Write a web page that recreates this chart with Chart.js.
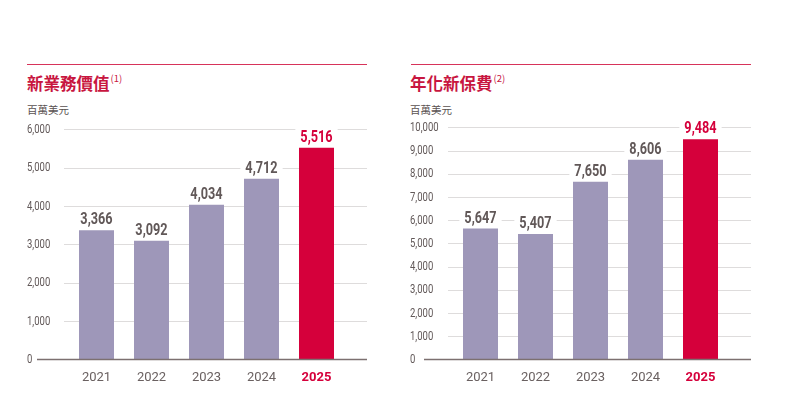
<!DOCTYPE html>
<html>
<head>
<meta charset="utf-8">
<script src="https://cdn.jsdelivr.net/npm/chart.js@4.4.1/dist/chart.umd.min.js"></script>
<style>
  html, body { margin: 0; padding: 0; background: #fff; }
  #page { position: relative; width: 792px; height: 399px; overflow: hidden; }
  canvas { position: absolute; top: 0; }
  .rule { position: absolute; top: 64px; height: 1px; background: #d7335a; }
  .title { position: absolute; top: 66px; font-family: "Noto Sans CJK TC", "Noto Sans", sans-serif;
           font-weight: 700; font-size: 16.5px; color: #c8163f; line-height: 24px; white-space: nowrap; }
  .title sup { font-size: 9.5px; font-weight: 400; vertical-align: 8px; margin-left: 1px; }
  .unit { position: absolute; top: 102px; font-family: "Noto Sans CJK TC", sans-serif;
          font-size: 10.5px; color: #5a5151; line-height: 16px; }
</style>
</head>
<body>
<div id="page">
  <div class="rule" style="left:27px; width:340px;"></div>
  <div class="rule" style="left:411px; width:340px;"></div>
  <div class="title" style="left:27px;">新業務價值<sup>(1)</sup></div>
  <div class="title" style="left:410px;">年化新保費<sup>(2)</sup></div>
  <div class="unit" style="left:27px;">百萬美元</div>
  <div class="unit" style="left:410px;">百萬美元</div>
  <canvas id="nbvChart" width="396" height="399" style="left:0;"></canvas>
  <canvas id="anpChart" width="396" height="399" style="left:396px;"></canvas>
</div>
<script>
// data
const years = ['2021', '2022', '2023', '2024', '2025'];
const nbvValues = [3366, 3092, 4034, 4712, 5516];   // 新業務價值, 百萬美元
const anpValues = [5647, 5407, 7650, 8606, 9484];   // 年化新保費, 百萬美元
const nbvMax = 6000;
const anpMax = 10000;
const tickStep = 1000;

const LAVENDER = '#9e97b9';
const RED = '#d5003b';
const GRID = '#dedcdc';
const BASE = '#7c7070';
const TEXT = '#615858';
const NUM_FONT = '"Roboto", "Liberation Sans", sans-serif';

const fmt = v => v.toLocaleString('en-US');

/* grid lines, y tick labels (squeezed to look condensed) and the zero baseline */
const gridPlugin = {
    id: 'customGrid',
    beforeDatasetsDraw(chart, args, opts) {
        const ctx = chart.ctx;
        const y = chart.scales.y;
        ctx.save();
        ctx.strokeStyle = GRID;
        ctx.lineWidth = 1;
        y.ticks.forEach(t => {
            if (t.value === 0) return;
            const py = Math.round(y.getPixelForValue(t.value)) + 0.5;
            ctx.beginPath();
            ctx.moveTo(opts.gridLeft, py);
            ctx.lineTo(opts.gridRight, py);
            ctx.stroke();
        });
        ctx.fillStyle = TEXT;
        ctx.font = '12.5px ' + NUM_FONT;
        ctx.textAlign = 'left';
        ctx.textBaseline = 'middle';
        y.ticks.forEach(t => {
            const py = y.getPixelForValue(t.value);
            ctx.save();
            ctx.translate(opts.labelLeft, py);
            ctx.scale(0.76, 1);
            ctx.fillText(fmt(t.value), 0, 0.5);
            ctx.restore();
        });
        ctx.restore();
    },
    afterDatasetsDraw(chart, args, opts) {
        const ctx = chart.ctx;
        const py = chart.scales.y.getPixelForValue(0);
        ctx.save();
        ctx.strokeStyle = BASE;
        ctx.lineWidth = 1.3;
        ctx.beginPath();
        ctx.moveTo(opts.baseLeft, py);
        ctx.lineTo(opts.gridRight, py);
        ctx.stroke();
        ctx.restore();
    }
};

/* value labels above bars, on a white patch that hides the grid line */
const valueLabelPlugin = {
    id: 'valueLabels',
    afterDatasetsDraw(chart) {
        const ctx = chart.ctx;
        const meta = chart.getDatasetMeta(0);
        const data = chart.data.datasets[0].data;
        const sx = 0.77;
        ctx.save();
        ctx.font = 'bold 16.5px ' + NUM_FONT;
        ctx.textAlign = 'center';
        ctx.textBaseline = 'middle';
        meta.data.forEach((bar, i) => {
            const text = fmt(data[i]);
            const w = ctx.measureText(text).width * sx;
            const cy = bar.y - 11;
            ctx.fillStyle = '#fff';
            ctx.fillRect(bar.x - w / 2 - 5, cy - 8, w + 10, 16);
            ctx.fillStyle = i === data.length - 1 ? RED : TEXT;
            ctx.save();
            ctx.translate(bar.x, cy + 1);
            ctx.scale(sx, 1);
            ctx.fillText(text, 0, 0);
            ctx.restore();
        });
        ctx.restore();
    }
};

function makeChart(id, values, maxY, geo) {
    return new Chart(document.getElementById(id), {
        type: 'bar',
        data: {
            labels: years,
            datasets: [{
                data: values,
                backgroundColor: values.map((v, i) => i === values.length - 1 ? RED : LAVENDER),
                borderWidth: 0,
                categoryPercentage: 1,
                barPercentage: 35 / 55
            }]
        },
        options: {
            responsive: false,
            animation: false,
            events: [],
            layout: {
                padding: { left: geo.padLeft, right: geo.padRight, top: geo.top, bottom: 9.5 }
            },
            plugins: {
                legend: { display: false },
                tooltip: { enabled: false },
                customGrid: {
                    gridLeft: geo.gridLeft, gridRight: geo.gridRight,
                    baseLeft: geo.baseLeft, labelLeft: geo.padLeft
                }
            },
            scales: {
                x: {
                    grid: { display: false, drawTicks: false },
                    border: { display: false },
                    ticks: {
                        padding: 10,
                        color: c => c.index === years.length - 1 ? RED : '#6a6161',
                        font: c => ({
                            family: '"Roboto", "Liberation Sans", sans-serif',
                            size: 13,
                            weight: c.index === years.length - 1 ? 'bold' : 'normal'
                        })
                    },
                    afterFit: s => { s.height = 30; }
                },
                y: {
                    min: 0,
                    max: maxY,
                    grid: { display: false, drawTicks: false },
                    border: { display: false },
                    ticks: { display: false, stepSize: tickStep },
                    afterFit: s => { s.width = geo.axisWidth; }
                }
            }
        },
        plugins: [gridPlugin, valueLabelPlugin]
    });
}

makeChart('nbvChart', nbvValues, nbvMax, {
    padLeft: 27, axisWidth: 42, padRight: 52, top: 129.3,
    gridLeft: 64, gridRight: 367, baseLeft: 37
});
makeChart('anpChart', anpValues, anpMax, {
    padLeft: 14, axisWidth: 43, padRight: 64, top: 127.3,
    gridLeft: 52, gridRight: 355, baseLeft: 28
});
</script>
</body>
</html>
